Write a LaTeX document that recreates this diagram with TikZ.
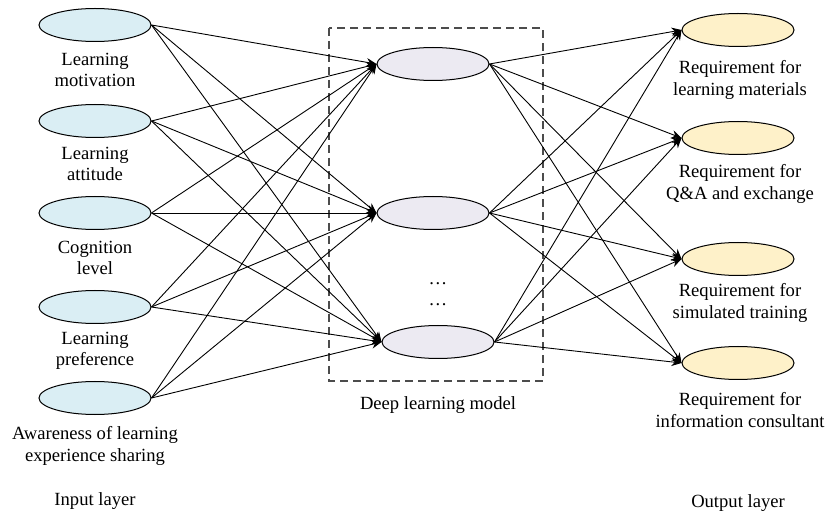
\documentclass[tikz,border=0pt]{standalone}
\usepackage{fontspec}
\setmainfont{Liberation Serif}
\usetikzlibrary{shapes.geometric,arrows.meta}

\definecolor{inblue}{HTML}{DAEEF4}
\definecolor{hidgray}{HTML}{ECEAF2}
\definecolor{outyel}{HTML}{FEF1C9}

\begin{document}
\begin{tikzpicture}[x=0.5pt,y=-0.5pt,
  unit/.style={draw,ellipse,line width=0.5pt,inner sep=0pt,minimum width=56pt,minimum height=16.5pt},
  lbl/.style={align=center,font=\fontsize{9.3}{10.6}\selectfont,inner sep=0pt},
  link/.style={draw,line width=0.45pt,-{Stealth[length=5pt,width=4.2pt]}},
  dashbox/.style={draw=black!70,line width=0.7pt,dash pattern=on 4pt off 2.5pt}]
\useasboundingbox (0,0) rectangle (825,513);

% input layer
\node[unit,fill=inblue] (a) at (95,25) {};
\node[lbl] (la) at (95,70) {Learning\\motivation};
\node[unit,fill=inblue] (b) at (95,121) {};
\node[lbl] (lb) at (95,164) {Learning\\attitude};
\node[unit,fill=inblue] (c) at (95,213) {};
\node[lbl] (lc) at (95,258) {Cognition\\level};
\node[unit,fill=inblue] (d) at (95,307) {};
\node[lbl] (ld) at (95,351) {Learning\\preference};
\node[unit,fill=inblue] (e) at (95,398) {};
\node[lbl] (le) at (95,446) {Awareness of learning\\experience sharing};
\node[lbl] (inl) at (95,501) {Input layer};

% deep learning model
\draw[dashbox] (329,28) rectangle (543,381);
\node[unit,fill=hidgray] (h) at (433,64) {};
\node[unit,fill=hidgray] (i) at (433,213) {};
\node[unit,fill=hidgray] (j) at (438,342) {};
\node[lbl] (dots1) at (438,284) {\dots};
\node[lbl] (dots2) at (438,305) {\dots};
\node[lbl] (dlm) at (438,405) {Deep learning model};

% output layer
\node[unit,fill=outyel] (p) at (738,30) {};
\node[lbl] (lp) at (740,80) {Requirement for\\learning materials};
\node[unit,fill=outyel] (q) at (738,138) {};
\node[lbl] (lq) at (740,184) {Requirement for\\Q\&A and exchange};
\node[unit,fill=outyel] (r) at (738,259) {};
\node[lbl] (lr) at (740,303) {Requirement for\\simulated training};
\node[unit,fill=outyel] (s) at (738,363) {};
\node[lbl] (ls) at (740,410) {Requirement for\\information consultant};
\node[lbl] (outl) at (738,503) {Output layer};

% input -> model
\path[link] (a.east) -- (h.west);
\path[link] (a.east) -- (i.west);
\path[link] (a.east) -- (j.west);
\path[link] (b.east) -- (h.west);
\path[link] (b.east) -- (i.west);
\path[link] (b.east) -- (j.west);
\path[link] (c.east) -- (h.west);
\path[link] (c.east) -- (i.west);
\path[link] (c.east) -- (j.west);
\path[link] (d.east) -- (h.west);
\path[link] (d.east) -- (i.west);
\path[link] (d.east) -- (j.west);
\path[link] (e.east) -- (h.west);
\path[link] (e.east) -- (i.west);
\path[link] (e.east) -- (j.west);

% model -> output
\path[link] (h.east) -- (p.west);
\path[link] (h.east) -- (q.west);
\path[link] (h.east) -- (r.west);
\path[link] (h.east) -- (s.west);
\path[link] (i.east) -- (p.west);
\path[link] (i.east) -- (q.west);
\path[link] (i.east) -- (r.west);
\path[link] (i.east) -- (s.west);
\path[link] (j.east) -- (p.west);
\path[link] (j.east) -- (q.west);
\path[link] (j.east) -- (r.west);
\path[link] (j.east) -- (s.west);
\end{tikzpicture}
\end{document}
